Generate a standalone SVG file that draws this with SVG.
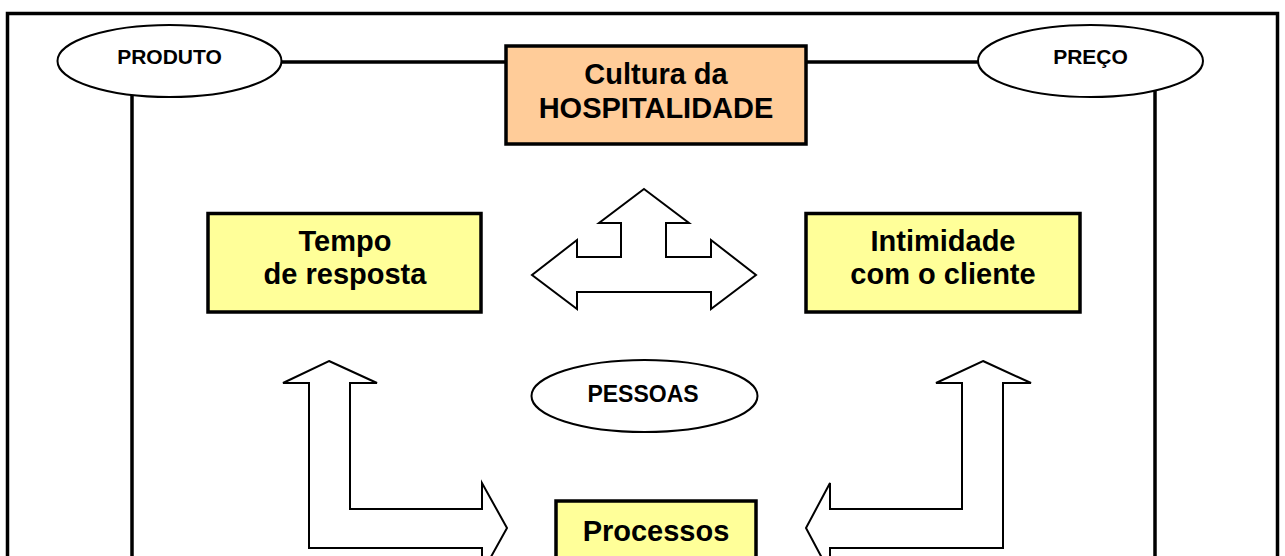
<svg xmlns="http://www.w3.org/2000/svg" width="1285" height="556" viewBox="0 0 1285 556">
<style>
.t{font-family:"Liberation Sans",Arial,sans-serif;font-weight:bold;fill:#000;text-anchor:middle}
.big{font-size:29px}
.ell{fill:#fff;stroke:#000;stroke-width:2}
.box{stroke:#000;stroke-width:3.5}
.ln{stroke:#000;stroke-width:3.5;fill:none}
.arr{fill:#fff;stroke:#000;stroke-width:2;stroke-linejoin:miter}
</style>
<rect x="0" y="0" width="1285" height="556" fill="#fff"/>
<rect x="7.5" y="13.5" width="1270" height="600" fill="none" stroke="#000" stroke-width="3.5"/>
<g id="connectors">
<line class="ln" x1="280" y1="62" x2="506" y2="62"/>
<line class="ln" x1="806" y1="62" x2="980" y2="62"/>
<line class="ln" x1="132" y1="95" x2="132" y2="560"/>
<line class="ln" x1="1155" y1="90" x2="1155" y2="560"/>
<polygon id="arrow-triple" class="arr" points="644,189 689,223 666,223 666,257 711,257 711,240 756,275 711,309 711,292 577,292 577,309 532,275 577,240 577,257 621,257 621,223 599,223"/>
<polygon id="arrow-left" class="arr" points="329,361 377,383 350,383 350,509 482,509 482,483 507,528 482,573 482,548 309,548 309,383 283,383"/>
<polygon id="arrow-right" class="arr" points="983,361 1031,383 1003,383 1003,548 830,548 830,573 806,528 830,483 830,509 962,509 962,383 936,383"/>
</g>
<g id="produto">
<ellipse class="ell" cx="169.5" cy="61" rx="112" ry="36"/>
<text class="t" x="169.5" y="63.5" font-size="21">PRODUTO</text>
</g>
<g id="preco">
<ellipse class="ell" cx="1090.5" cy="61" rx="112.5" ry="36"/>
<text class="t" x="1090.5" y="63.5" font-size="21">PREÇO</text>
</g>
<g id="cultura">
<rect class="box" x="506" y="46" width="300" height="98" fill="#FFCC99"/>
<text class="t big" x="656" y="83.5">Cultura da</text>
<text class="t big" x="656" y="118">HOSPITALIDADE</text>
</g>
<g id="tempo">
<rect class="box" x="208" y="213.5" width="273" height="98.5" fill="#FFFF99"/>
<text class="t big" x="345" y="251">Tempo</text>
<text class="t big" x="345" y="284">de resposta</text>
</g>
<g id="intimidade">
<rect class="box" x="806" y="213.5" width="274" height="98.5" fill="#FFFF99"/>
<text class="t big" x="943" y="251">Intimidade</text>
<text class="t big" x="943" y="284">com o cliente</text>
</g>
<g id="pessoas">
<ellipse class="ell" cx="644.5" cy="396" rx="113" ry="36"/>
<text class="t" x="643" y="401.5" font-size="23">PESSOAS</text>
</g>
<g id="processos">
<rect class="box" x="556" y="501" width="200" height="100" fill="#FFFF99"/>
<text class="t big" x="656" y="541">Processos</text>
</g>
</svg>
